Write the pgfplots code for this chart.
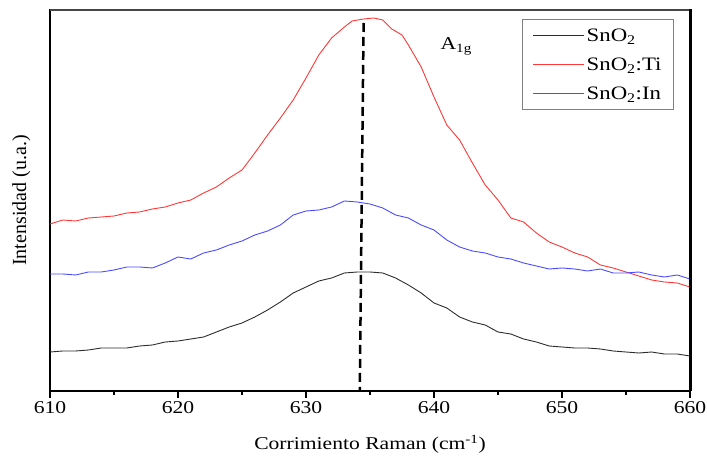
\documentclass[border=0pt]{standalone}
\usepackage{fontspec}
\setmainfont[FakeStretch=1.2]{Liberation Serif}
\newfontfamily\ylabfont{Liberation Serif}
\usepackage{pgfplots}
\pgfplotsset{compat=1.18}

\definecolor{cblack}{RGB}{45,45,45}
\definecolor{cred}{RGB}{255,55,55}
\definecolor{cblue}{RGB}{75,75,255}
\definecolor{frametop}{RGB}{70,70,70}

\begin{document}
\begin{tikzpicture}
\begin{axis}[
  name=ax,
  scale only axis,
  width=640pt, height=381pt,
  xmin=610, xmax=660, ymin=0, ymax=381,
  clip=false,
  axis line style={line width=1.3pt, black},
  xtick pos=bottom,
  xtick={610,620,...,660},
  minor x tick num=1,
  ytick=\empty,
  tick align=outside,
  major tick length=7pt, minor tick length=4pt,
  tick style={line width=1.2pt, black},
  /pgf/number format/assume math mode=true,
  xticklabel style={font=\fontsize{18}{20}\selectfont},
  xlabel={Corrimiento Raman (cm\textsuperscript{-1})},
  xlabel style={font=\fontsize{18}{20}\selectfont, at={(axis description cs:0.5,-0.14)}, anchor=center},
  ylabel={Intensidad (u.a.)},
  ylabel style={font=\ylabfont\fontsize{20}{22}\selectfont, at={(axis description cs:-0.045,0.5)}, anchor=center},
  legend style={at={(rel axis cs:0.975,0.976)}, anchor=north east, draw=gray, line width=1pt,
    font=\fontsize{19}{21}\selectfont, inner xsep=10pt, inner ysep=7pt, row sep=11pt,
    cells={anchor=west}},
  legend image code/.code={\draw[#1] (0pt,0pt) -- (51pt,0pt);},
]
% SnO2
\addplot[cblack, line width=0.9pt] coordinates {
(610,39) (611,40) (612,40) (613,41) (614,43) (615,43) (616,43) (617,45) (618,46) (619,49)
(620,50) (621,52) (622,54) (623,59) (624,64) (625,68) (626,74) (627,81) (628,89) (629,98)
(630,104) (631,110) (632,113) (633,118) (634,119) (635,119) (636,118) (637,113) (638,106) (639,98)
(640,88) (641,83) (642,74) (643,69) (644,66) (645,59) (646,57) (647,52) (648,49) (649,45)
(650,44) (651,43) (652,43) (653,42) (654,40) (655,39) (656,38) (657,39) (658,37) (659,37) (660,35)
};
\addlegendentry{SnO\textsubscript{2}}
% SnO2:Ti
\addplot[cred, line width=0.9pt] coordinates {
(610,167) (611,171) (612,170) (613,173) (614,174) (615,175) (616,178) (617,179) (618,182) (619,184)
(620,188) (621,191) (622,198) (623,204) (624,213) (625,221) (626,238) (627,256) (628,273) (629,291)
(630,313) (631,336) (632,353) (633,364) (633.6,370) (634.5,372) (635.3,373) (636,371) (636.7,362)
(637.5,356) (638,346) (639,324) (640,294) (641,266) (642,251) (643,228) (644,206) (645,191)
(646,173) (647,169) (648,158) (649,149) (650,144) (651,138) (652,134) (653,126) (654,123)
(655,119) (656,115) (657,111) (658,109) (659,108) (660,104)
};
\addlegendentry{SnO\textsubscript{2}:Ti}
% SnO2:In
\addplot[cblue, line width=0.9pt] coordinates {
(610,117) (611,117) (612,116) (613,119) (614,119) (615,121) (616,124) (617,124) (618,123) (619,128)
(620,134) (621,132) (622,138) (623,141) (624,146) (625,150) (626,156) (627,160) (628,166) (629,176)
(630,180) (631,181) (632,184) (633,190) (634,189) (635,187) (636,183) (637,176) (638,173) (639,166)
(640,161) (641,151) (642,144) (643,140) (644,138) (645,134) (646,132) (647,128) (648,125) (649,122)
(650,123) (651,122) (652,120) (653,122) (654,118) (655,118) (656,119) (657,116) (658,114) (659,116) (660,112)
};
\addlegendentry{SnO\textsubscript{2}:In}
% A1g reference line
\addplot[forget plot, black, line width=2.5pt, dash pattern=on 9pt off 5pt] coordinates {(634.5,368) (634.2,0)};
\node[anchor=base west, font=\fontsize{18}{20}\selectfont, inner sep=0pt] at (axis cs:640.5,341) {A\textsubscript{1g}};
\end{axis}
% grey top edge and heavier right edge of the frame
\draw[line width=1.8pt, frametop] (ax.north west) -- (ax.north east);
\draw[line width=3pt, black] (ax.south east) -- ([yshift=0.9pt]ax.north east);
\pgfresetboundingbox
\path ([shift={(-50pt,-69pt)}]ax.south west) rectangle ([shift={(17pt,10pt)}]ax.north east);
\end{tikzpicture}
\end{document}
